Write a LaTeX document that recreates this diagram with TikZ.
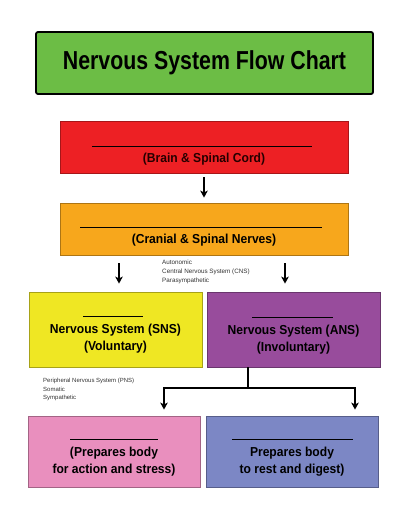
\documentclass[tikz,border=0pt]{standalone}
\usepackage{fontspec}
\usepackage{xcolor}
\usepackage{tikz}
\usetikzlibrary{arrows.meta}
\setmainfont{Liberation Sans}
\newfontfamily\titlefont[FakeStretch=0.82]{Liberation Sans}
\newfontfamily\boxfont[FakeStretch=0.93]{Liberation Sans}
\definecolor{titlegreen}{HTML}{6CBD45}
\definecolor{cnsred}{HTML}{ED2024}
\definecolor{pnsorange}{HTML}{F7A71C}
\definecolor{snsyellow}{HTML}{EFE723}
\definecolor{anspurple}{HTML}{984C9C}
\definecolor{sympink}{HTML}{E98FBE}
\definecolor{parablue}{HTML}{7C87C5}

\begin{document}
\begin{tikzpicture}[x=1pt,y=-1pt,
  box/.style={draw=#1!70!black, fill=#1, line width=0.8pt, inner sep=0pt},
  boxtext/.style={font=\boxfont\bfseries\fontsize{13}{17}\selectfont, align=center, inner sep=0pt},
  blank/.style={line width=0.6pt},
  note/.style={font=\fontsize{6.3}{9}\selectfont, align=left, anchor=west, inner sep=0pt, text=black!80},
  arr/.style={-{Stealth[length=7pt,width=7.5pt,inset=1.8pt]}, line width=1.4pt},
  fat/.style={line width=1.8pt}]
\useasboundingbox (0,0) rectangle (403,519);
%
\node[draw=black, fill=titlegreen, line width=1.8pt, rounded corners=2pt,
  minimum width=337pt, minimum height=62pt,
  font=\titlefont\bfseries\fontsize{26}{30}\selectfont] (title) at (204.5,63) {Nervous System Flow Chart};
%
\node[box=cnsred, minimum width=288pt, minimum height=52pt] (cns) at (204,147) {};
\draw[blank] (92,146) -- (312,146);
\node[boxtext, text=black!85!red] (cnstext) at (204,159) {(Brain \& Spinal Cord)};
%
\node[box=pnsorange, minimum width=288pt, minimum height=52pt] (pns) at (204,229) {};
\draw[blank] (80,227) -- (322,227);
\node[boxtext] (pnstext) at (204,240) {(Cranial \& Spinal Nerves)};
%
\node[box=snsyellow, minimum width=173pt, minimum height=75pt] (sns) at (115.5,329.5) {};
\draw[blank] (83,316) -- (143,316);
\node[boxtext] (snstext) at (115.5,339) {Nervous System (SNS)\\(Voluntary)};
%
\node[box=anspurple, minimum width=173pt, minimum height=75pt] (ans) at (293.5,329.5) {};
\draw[blank] (252,317) -- (333,317);
\node[boxtext] (anstext) at (293.5,340) {Nervous System (ANS)\\(Involuntary)};
%
\node[box=sympink, minimum width=172pt, minimum height=71pt] (symp) at (114,451.5) {};
\draw[blank] (70,439) -- (158,439);
\node[boxtext] (symptext) at (114,462) {(Prepares body\\for action and stress)};
%
\node[box=parablue, minimum width=172pt, minimum height=71pt] (para) at (292,451.5) {};
\draw[blank] (232,439) -- (353,439);
\node[boxtext] (paratext) at (292,462) {Prepares body\\to rest and digest)};
%
\node[note] (notes1) at (162,272) {Autonomic\\Central Nervous System (CNS)\\Parasympathetic};
\node[note, font=\fontsize{6}{8.5}\selectfont] (notes2) at (43,389.5) {Peripheral Nervous System (PNS)\\Somatic\\Sympathetic};
%
\draw[arr, shorten <=4pt, shorten >=5pt] (cns.south) -- (pns.north);
\coordinate (down1) at (119,263);
\coordinate (down2) at (285,263);
\draw[arr, shorten >=8pt] (down1) -- (down1 |- sns.north);
\draw[arr, shorten >=8pt] (down2) -- (down2 |- ans.north);
%
\coordinate (fork) at (248,388);
\coordinate (left) at (164,388);
\coordinate (right) at (355,388);
\draw[fat] (fork |- ans.south) -- (fork);
\draw[fat] (left) -- (right);
\draw[arr, shorten <=-0.9pt, shorten >=6pt] (left) -- (left |- symp.north);
\draw[arr, shorten <=-0.9pt, shorten >=6pt] (right) -- (right |- para.north);
\end{tikzpicture}
\end{document}
